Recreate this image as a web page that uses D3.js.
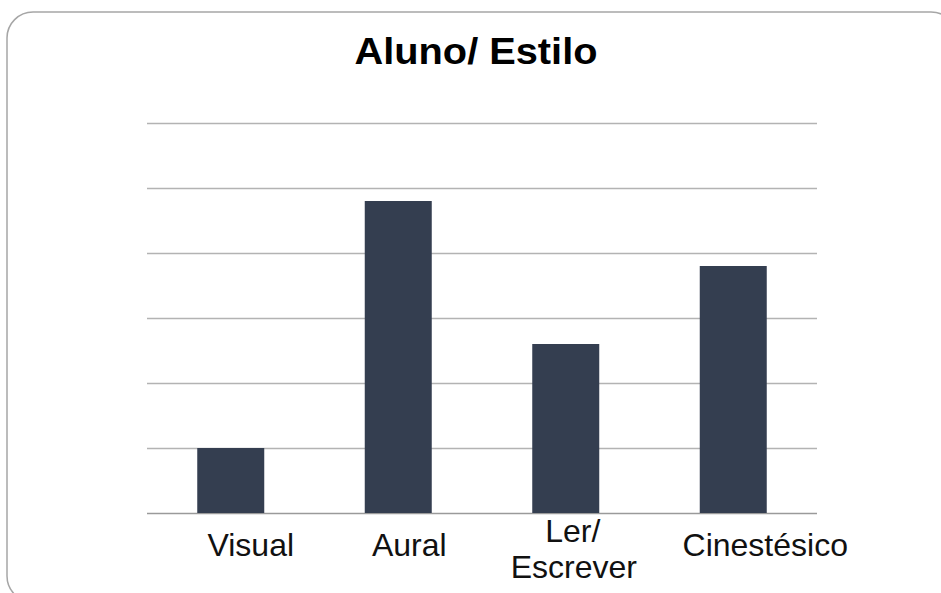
<!DOCTYPE html>
<html>
<head>
<meta charset="utf-8">
<script src="https://cdn.jsdelivr.net/npm/d3@7"></script>
<style>
  html, body { margin: 0; padding: 0; background: #ffffff; }
  svg { display: block; }
</style>
</head>
<body>
<svg id="chart" width="941" height="593"></svg>
<script>
// ---- data ----
const categories = ["Visual", "Aural", "Ler/\nEscrever", "Cinestésico"];
const values = [5, 24, 13, 19];
const yTicks = [0, 5, 10, 15, 20, 25, 30];
const title = "Aluno/ Estilo";

// ---- layout ----
const W = 941, H = 593;
const plot = { left: 147, right: 817, top: 123, bottom: 513 };
const labelShift = [20, 11, 8, 32];

const svg = d3.select("#chart");

// frame
svg.append("rect")
  .attr("x", 7).attr("y", 12)
  .attr("width", 950).attr("height", 590)
  .attr("rx", 26).attr("ry", 26)
  .attr("fill", "#ffffff")
  .attr("stroke", "#a6a6a6")
  .attr("stroke-width", 1.5);

// title
svg.append("text")
  .attr("x", 476).attr("y", 64)
  .attr("text-anchor", "middle")
  .attr("font-family", "'Liberation Sans', Arial, sans-serif")
  .attr("font-weight", "bold")
  .attr("font-size", 37)
  .attr("textLength", 243)
  .attr("lengthAdjust", "spacingAndGlyphs")
  .attr("fill", "#000")
  .text(title);

const x = d3.scaleBand()
  .domain(categories)
  .range([plot.left, plot.right])
  .paddingInner(0.6)
  .paddingOuter(0.3);

const y = d3.scaleLinear()
  .domain([0, 30])
  .range([plot.bottom, plot.top]);

// gridlines
const yAxis = d3.axisLeft(y)
  .tickValues(yTicks)
  .tickSize(-(plot.right - plot.left))
  .tickFormat("");
const gy = svg.append("g")
  .attr("transform", `translate(${plot.left},0)`)
  .call(yAxis);
gy.select(".domain").remove();
gy.selectAll(".tick line")
  .attr("stroke", d => d === 0 ? "#9a9a9a" : "#b3b3b3")
  .attr("stroke-width", 1.5);

// bars
svg.append("g").selectAll("rect")
  .data(values)
  .join("rect")
  .attr("x", (d, i) => x(categories[i]))
  .attr("y", d => y(d))
  .attr("width", x.bandwidth())
  .attr("height", d => y(0) - y(d))
  .attr("fill", "#343e50");

// x axis labels
const xAxis = d3.axisBottom(x).tickSize(0).tickFormat("");
const gx = svg.append("g")
  .attr("transform", `translate(0,${plot.bottom})`)
  .call(xAxis);
gx.select(".domain").remove();

gx.selectAll(".tick").each(function(d, i) {
  const lines = d.split("\n");
  const t = d3.select(this).append("text")
    .attr("fill", "#111")
    .attr("text-anchor", "middle")
    .attr("font-family", "'Liberation Sans', Arial, sans-serif")
    .attr("font-size", 32)
    .attr("x", labelShift[i]);
  const startY = lines.length === 1 ? 43 : 29;
  lines.forEach((ln, k) => {
    t.append("tspan")
      .attr("x", labelShift[i] + (lines.length > 1 && k === 0 ? -1 : 0))
      .attr("y", startY + k * 36)
      .text(ln);
  });
});
</script>
</body>
</html>
